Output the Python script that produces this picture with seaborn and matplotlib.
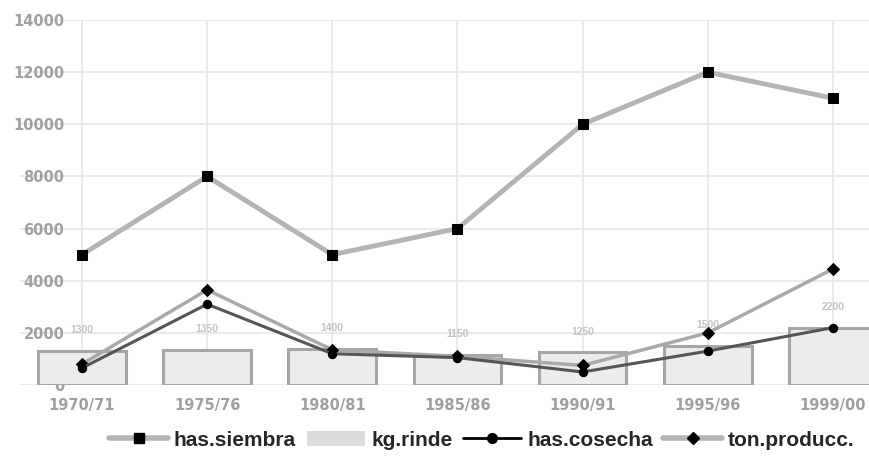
import matplotlib.pyplot as plt
from matplotlib.lines import Line2D
from matplotlib.patches import Patch
import seaborn as sns
import numpy as np
import pandas as pd

campaigns = ["1970/71", "1975/76", "1980/81", "1985/86", "1990/91", "1995/96", "1999/00"]
has_siembra = [5000, 8000, 5000, 6000, 10000, 12000, 11000]
kg_rinde = [1300, 1350, 1400, 1150, 1250, 1500, 2200]
has_cosecha = [650, 3100, 1200, 1050, 500, 1300, 2200]
ton_producc = [800, 3650, 1350, 1100, 750, 2000, 4450]
y_ticks = [0, 2000, 4000, 6000, 8000, 10000, 12000, 14000]

df = pd.DataFrame({
    "campana": campaigns,
    "pos": np.arange(len(campaigns)),
    "has_siembra": has_siembra,
    "kg_rinde": kg_rinde,
    "has_cosecha": has_cosecha,
    "ton_producc": ton_producc,
})

sns.set_theme(style="white")
plt.rcParams["font.family"] = ["Liberation Sans", "DejaVu Sans"]

fig = plt.figure(figsize=(8.7, 4.65), dpi=100, facecolor="white")
ax = fig.add_axes([20 / 870, 80 / 465, 850 / 870, 365 / 465])

grid_c = "#e6e6e6"
for yv in y_ticks:
    ax.axhline(yv, color=grid_c, lw=1.2, zorder=0)
for p in df["pos"]:
    ax.axvline(p, color=grid_c, lw=1.2, zorder=0)

# bars (kg.rinde)
ax.bar(df["pos"], df["kg_rinde"], width=0.7, color="#ececec",
       edgecolor="#a6a6a6", linewidth=2.2, zorder=1)
for p, v in zip(df["pos"], df["kg_rinde"]):
    ax.text(p, v + 600, f"{v}", ha="center", va="bottom", fontsize=7.5,
            color="#c4c4c4", fontweight="bold", zorder=2)

# lines
sns.lineplot(data=df, x="pos", y="has_siembra", ax=ax, color="#b4b4b4", lw=3.5,
             marker="s", markersize=7, markerfacecolor="black",
             markeredgecolor="black", zorder=3)
sns.lineplot(data=df, x="pos", y="ton_producc", ax=ax, color="#a9a9a9", lw=2.5,
             marker="D", markersize=6, markerfacecolor="black",
             markeredgecolor="black", zorder=4)
sns.lineplot(data=df, x="pos", y="has_cosecha", ax=ax, color="#555555", lw=2.2,
             marker="o", markersize=6, markerfacecolor="black",
             markeredgecolor="black", zorder=5)

ax.set_xlim(-0.495, 6.296)
ax.set_ylim(0, 14000)
ax.set_xticks(df["pos"])
ax.set_xticklabels(campaigns)
ax.set_yticks(y_ticks)
ax.set_yticklabels([str(t) for t in y_ticks])
ax.tick_params(axis="y", length=0, pad=-32, labelsize=10.5, labelcolor="#a0a0a0")
ax.tick_params(axis="x", length=0, pad=9, labelsize=10.5, labelcolor="#a0a0a0")
for lbl in ax.get_yticklabels() + ax.get_xticklabels():
    lbl.set_fontweight("bold")
    lbl.set_family(["DejaVu Sans"])
ax.set_xlabel("")
ax.set_ylabel("")
for s in ax.spines.values():
    s.set_visible(False)
ax.set_facecolor("white")

handles = [
    Line2D([], [], color="#b4b4b4", lw=4, marker="s", markersize=7,
           markerfacecolor="black", markeredgecolor="black"),
    Patch(facecolor="#dcdcdc", edgecolor="none"),
    Line2D([], [], color="black", lw=2, marker="o", markersize=7,
           markerfacecolor="black", markeredgecolor="black"),
    Line2D([], [], color="#b4b4b4", lw=4, marker="D", markersize=6,
           markerfacecolor="black", markeredgecolor="black"),
]
labels = ["has.siembra", "kg.rinde", "has.cosecha", "ton.producc."]
fig.legend(handles, labels, loc="center", bbox_to_anchor=(482 / 870, 1 - 440 / 465),
           ncol=4, frameon=False, handlelength=2.8,
           handletextpad=0.3, columnspacing=0.5,
           prop={"weight": "bold", "size": 15})

fig.savefig("out.png", dpi=100, facecolor="white")
